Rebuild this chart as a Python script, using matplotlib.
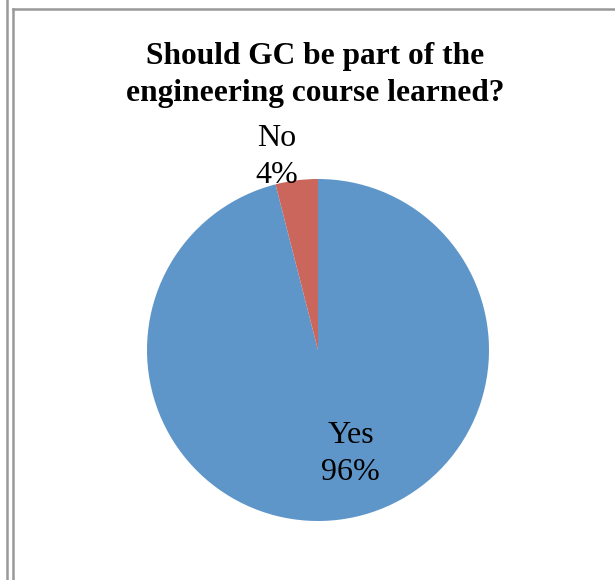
import matplotlib
matplotlib.use("Agg")
import matplotlib.pyplot as plt
from matplotlib.lines import Line2D

# respuestas de la encuesta
labels = ["Yes", "No"]
values = [96, 4]
colors = ["#5F96C9", "#CB665D"]

title = "Should GC be part of the\nengineering course learned?"

plt.rcParams["font.family"] = ["Liberation Serif", "DejaVu Serif"]

fig = plt.figure(figsize=(6.15, 5.8), dpi=100)

# marcos grises del documento
gray = "#999999"
fig.add_artist(Line2D([6.5 / 615, 6.5 / 615], [0, 1], color=gray, lw=1.8, transform=fig.transFigure))
fig.add_artist(Line2D([12.5 / 615, 12.5 / 615], [0, 1 - 8.5 / 580], color=gray, lw=1.8, transform=fig.transFigure))
fig.add_artist(Line2D([12.5 / 615, 1], [1 - 8.5 / 580, 1 - 8.5 / 580], color=gray, lw=1.8, transform=fig.transFigure))

# tarta centrada en (318, 350) px con radio 171 px
ax = fig.add_axes([147 / 615, 59 / 580, 342 / 615, 342 / 580])
ax.pie(values, colors=colors, startangle=90, counterclock=False, radius=1,
       wedgeprops=dict(linewidth=0))
ax.set_xlim(-1, 1)
ax.set_ylim(-1, 1)
ax.set_aspect("equal")
ax.axis("off")

# etiquetas con nombre y porcentaje
total = sum(values)
label_pos = [(0.19, -0.61), (-0.243, 1.13)]
for lab, v, (x, y) in zip(labels, values, label_pos):
    ax.text(x, y, "%s\n%d%%" % (lab, round(100 * v / total)), ha="center", va="center",
            fontsize=23, linespacing=1.36, clip_on=False)

fig.text(315 / 615, 1 - 75 / 580, title, ha="center", va="center", fontsize=22.6,
         fontweight="bold", linespacing=1.38)

fig.savefig("out.png", dpi=100)
